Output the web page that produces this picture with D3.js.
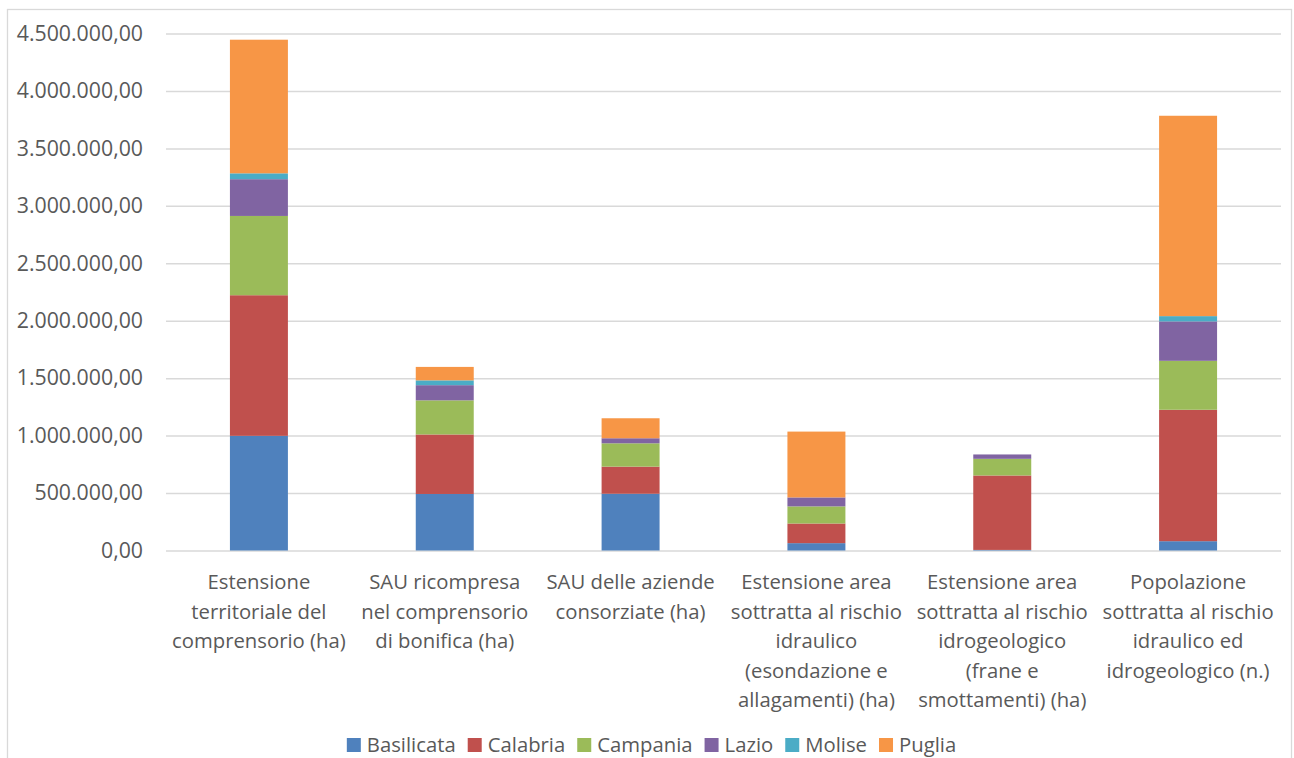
<!DOCTYPE html>
<html>
<head>
<meta charset="utf-8">
<script src="https://cdn.jsdelivr.net/npm/d3@7"></script>
<style>
  html, body { margin: 0; padding: 0; background: #fff; }
  svg { display: block; font-family: "Open Sans", sans-serif; }
</style>
</head>
<body>
<svg id="chart" width="1294" height="758"></svg>
<script>
// Categories (wrapped into lines as shown under the axis)
const categories = [
  "Estensione territoriale del comprensorio (ha)",
  "SAU ricompresa nel comprensorio di bonifica (ha)",
  "SAU delle aziende consorziate (ha)",
  "Estensione area sottratta al rischio idraulico (esondazione e allagamenti) (ha)",
  "Estensione area sottratta al rischio idrogeologico (frane e smottamenti) (ha)",
  "Popolazione sottratta al rischio idraulico ed idrogeologico (n.)"
];
const categoryLines = [
  ["Estensione", "territoriale del", "comprensorio (ha)"],
  ["SAU ricompresa", "nel comprensorio", "di bonifica (ha)"],
  ["SAU delle aziende", "consorziate (ha)"],
  ["Estensione area", "sottratta al rischio", "idraulico", "(esondazione e", "allagamenti) (ha)"],
  ["Estensione area", "sottratta al rischio", "idrogeologico", "(frane e", "smottamenti) (ha)"],
  ["Popolazione", "sottratta al rischio", "idraulico ed", "idrogeologico (n.)"]
];

// Series values, one per region
const regions = ["Basilicata", "Calabria", "Campania", "Lazio", "Molise", "Puglia"];
const basilicata = [998000, 492000, 494000, 64000, 5000, 81000];
const calabria   = [1224000, 518000, 236000, 171000, 648000, 1144000];
const campania   = [690000, 297000, 203000, 149000, 145000, 426000];
const lazio      = [320000, 132000, 44000, 78000, 38000, 343000];
const molise     = [51000, 42000, 0, 0, 0, 46000];
const puglia     = [1163000, 117000, 174000, 573000, 0, 1744000];
const seriesValues = [basilicata, calabria, campania, lazio, molise, puglia];

// Y axis ticks
const yTicks = [0, 500000, 1000000, 1500000, 2000000, 2500000, 3000000, 3500000, 4000000, 4500000];

const colors = ["#4f81bd", "#c0504d", "#9bbb59", "#8064a2", "#4bacc6", "#f79646"];

const svg = d3.select("#chart");
const plot = { left: 166, right: 1281, top: 33.5, bottom: 550.5 };

const itLocale = d3.formatLocale({ decimal: ",", thousands: ".", grouping: [3], currency: ["€", ""] });
const fmt = itLocale.format(",.2f");

// Outer chart frame
svg.append("rect")
  .attr("x", 7.5).attr("y", 9.5)
  .attr("width", 1284).attr("height", 760)
  .attr("fill", "#fff").attr("stroke", "#d9d9d9").attr("stroke-width", 1.3);

const x = d3.scaleBand().domain(categories).range([plot.left, plot.right]).padding(0);
const y = d3.scaleLinear().domain([0, 4500000]).range([plot.bottom, plot.top]);
const barW = x.bandwidth() * 0.312;

// Gridlines + tick labels
const yAxis = d3.axisLeft(y)
  .tickValues(yTicks)
  .tickSize(-(plot.right - plot.left))
  .tickPadding(23)
  .tickFormat(fmt);

const gy = svg.append("g")
  .attr("transform", `translate(${plot.left},0)`)
  .call(yAxis);
gy.select(".domain").remove();
gy.selectAll(".tick line").attr("stroke", "#d9d9d9").attr("stroke-width", 1.5);
gy.selectAll(".tick text")
  .attr("fill", "#595959")
  .attr("font-size", "21.3px")
  .attr("font-family", "'Open Sans', sans-serif");

// Stacked data
const rows = categories.map((c, i) => {
  const r = { category: c };
  regions.forEach((reg, j) => { r[reg] = seriesValues[j][i]; });
  return r;
});
const stack = d3.stack().keys(regions);
const stacked = stack(rows);

svg.append("g").selectAll("g")
  .data(stacked)
  .join("g")
  .attr("fill", (d, i) => colors[i])
  .selectAll("rect")
  .data(d => d.filter(s => s[1] - s[0] > 0))
  .join("rect")
  .attr("x", d => x(d.data.category) + (x.bandwidth() - barW) / 2)
  .attr("width", barW)
  .attr("y", d => y(d[1]))
  .attr("height", d => y(d[0]) - y(d[1]));

// Category labels
const catG = svg.append("g")
  .attr("fill", "#595959")
  .attr("font-size", "20.3px")
  .attr("text-anchor", "middle");
categories.forEach((c, i) => {
  const t = catG.append("text")
    .attr("x", x(c) + x.bandwidth() / 2)
    .attr("y", 589);
  categoryLines[i].forEach((line, k) => {
    t.append("tspan")
      .attr("x", x(c) + x.bandwidth() / 2)
      .attr("y", 589 + k * 29.5)
      .text(line);
  });
});

// Legend
const legend = svg.append("g").attr("font-size", "20.3px").attr("fill", "#595959");
const items = legend.selectAll("g").data(regions).join("g");
items.append("rect")
  .attr("width", 14).attr("height", 14)
  .attr("y", 738)
  .attr("fill", (d, i) => colors[i]);
items.append("text")
  .attr("x", 20)
  .attr("y", 752)
  .text(d => d);
const widths = [];
items.each(function () {
  widths.push(this.getBBox().width);
});
const gap = 12;
const total = d3.sum(widths) + gap * (widths.length - 1);
let cursor = 651.5 - total / 2;
items.attr("transform", (d, i) => {
  const tx = cursor;
  cursor += widths[i] + gap;
  return `translate(${tx},0)`;
});
</script>
</body>
</html>
